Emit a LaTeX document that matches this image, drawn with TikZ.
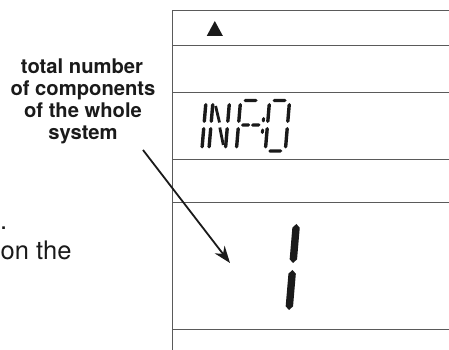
\documentclass[tikz,border=0pt]{standalone}
\usepackage{fontspec}
\setmainfont{TeX Gyre Heros}
\usetikzlibrary{arrows.meta}
\definecolor{ink}{HTML}{1A1A1A}
\definecolor{rule}{HTML}{5A5A5A}
\newcommand{\vsegment}[4]{% x, ytop, ybottom, half width
  \fill[segfill] (#1,#2) -- (#1+#4,#2-#4) -- (#1+#4,#3+#4) -- (#1,#3) -- (#1-#4,#3+#4) -- (#1-#4,#2-#4) -- cycle;}
\newcommand{\hsegment}[4]{% xleft, xright, y, half width
  \fill[segfill] (#1,#3) -- (#1+#4,#3+#4) -- (#2-#4,#3+#4) -- (#2,#3) -- (#2-#4,#3-#4) -- (#1+#4,#3-#4) -- cycle;}
\tikzset{
  segfill/.style={fill=ink},
  frameline/.style={draw=rule, line width=0.9pt},
  boldlabel/.style={anchor=base, inner sep=0pt, text=ink, font=\fontsize{20.2}{22}\selectfont\bfseries},
  bodytext/.style={anchor=base west, inner sep=0pt, text=ink, font=\fontsize{25.5}{29}\selectfont},
  pointer/.style={draw=ink, line width=1.8pt, -{Stealth[length=17pt,width=12.5pt]}},
}
\begin{document}
\begin{tikzpicture}[x=1pt,y=1pt]
\useasboundingbox (0,0) rectangle (449,350);
% frame of the display
\coordinate (ftop) at (172,339.3);
\coordinate (fbot) at (172,0);
\draw[frameline] (ftop) -- (fbot);
\foreach \yy in {339.3,305,257.7,190.7,147.3,21}{
  \draw[frameline] (172,\yy) -- (449,\yy);
}
% triangle indicator
\fill[ink] (206.8,314.2) -- (222.8,314.2) -- (214.8,329) -- cycle;
% INFO in segment style
\begin{scope}[shift={(0,225)}, xslant=0.085]
  % I
  \vsegment{204}{22}{2}{1.7}
  \vsegment{204}{-2}{-23.5}{1.7}
  % N
  \vsegment{211}{22}{2}{1.7}
  \vsegment{211}{-2}{-23.5}{1.7}
  \draw[ink, line width=2.8pt] (214,19) -- (219.3,2.5);
  \draw[ink, line width=2.8pt] (220,-2.5) -- (225,-20);
  \vsegment{227.5}{22}{2}{1.7}
  \vsegment{227.5}{-2}{-23.5}{1.7}
  % F
  \vsegment{238.5}{22}{2}{1.7}
  \vsegment{238.5}{-2}{-23.5}{1.7}
  \hsegment{241.5}{255.5}{24.5}{1.7}
  \hsegment{241}{250.2}{0}{1.7}
  \hsegment{251}{260.5}{0}{1.7}
  % colon marks
  \vsegment{263}{8}{2.5}{1.5}
  \vsegment{263}{-3.5}{-9}{1.5}
  % O
  \vsegment{267.5}{22}{2}{1.7}
  \vsegment{267.5}{-2}{-23.5}{1.7}
  \vsegment{287.5}{22}{2}{1.7}
  \vsegment{287.5}{-2}{-23.5}{1.7}
  \hsegment{270.5}{284.5}{24.5}{1.7}
  \hsegment{270.5}{284.5}{-26}{1.7}
\end{scope}
% big digit 1
\begin{scope}[shift={(0,83)}, xslant=0.085]
  \vsegment{292.7}{43}{4}{3.7}
  \vsegment{292.7}{-3}{-43}{3.7}
\end{scope}
% label
\node[boldlabel] (l1) at (82,276.7) {total number};
\node[boldlabel] (l2) at (83,254.5) {of components};
\node[boldlabel] (l3) at (83,232.3) {of the whole};
\node[boldlabel] (l4) at (83,210.1) {system};
% cropped body text
\node[bodytext] (dot) at (0,120) {.};
\node[bodytext] (onthe) at (0.5,90) {on the};
% pointer
\coordinate (arrowstart) at (143,200);
\coordinate (arrowtip) at (230,87);
\draw[pointer] (arrowstart) -- (arrowtip);
\end{tikzpicture}
\end{document}
